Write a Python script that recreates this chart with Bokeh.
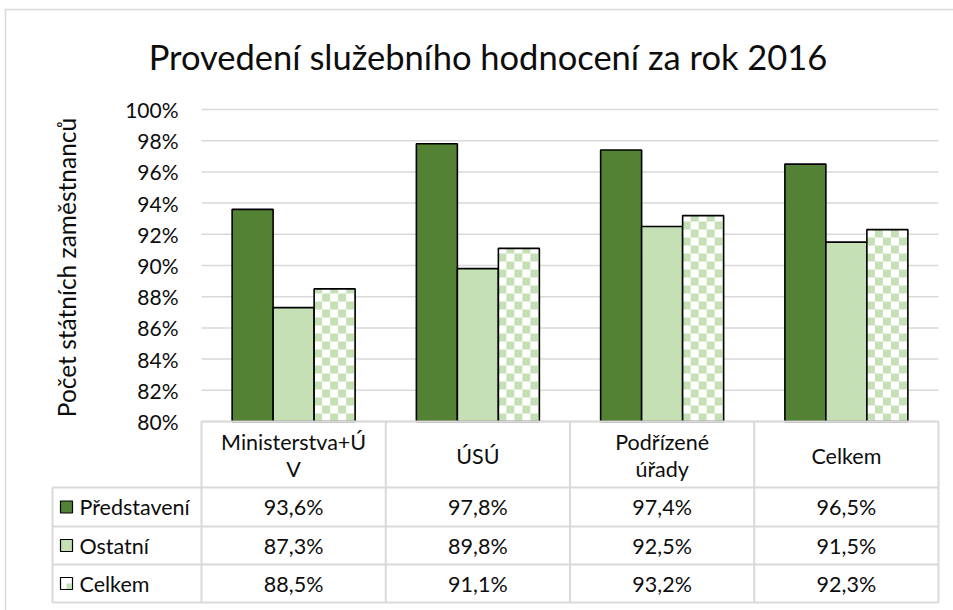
import math
from bokeh.plotting import figure
from bokeh.models import Range1d
from bokeh.core.properties import value
from bokeh.embed import file_html
from bokeh.resources import INLINE

# ---------------- data ----------------
title_text = "Provedení služebního hodnocení za rok 2016"
y_label = "Počet státních zaměstnanců"
categories = ["Ministerstva+Ú\nV", "ÚSÚ", "Podřízené\núřady", "Celkem"]
series_names = ["Představení", "Ostatní", "Celkem"]
predstaveni = [93.6, 97.8, 97.4, 96.5]
ostatni = [87.3, 89.8, 92.5, 91.5]
celkem = [88.5, 91.1, 93.2, 92.3]
y_ticks = [80, 82, 84, 86, 88, 90, 92, 94, 96, 98, 100]
y_tick_labels = ["80%", "82%", "84%", "86%", "88%", "90%", "92%", "94%", "96%", "98%", "100%"]

# ---------------- layout (page pixels) ----------------
PAGE = 0
W, H = 953, 610
AX_L, AX_R = 201, 938
Y100, Y80 = 109, 421
UX = (AX_R - AX_L) / len(categories)
UY = (Y80 - Y100) / 20.0

def X(px):
    return (px - AX_L) / UX

def Y(py):
    return 80 - (py - Y80) / UY

FONT = value("Lato")
DARK = "#548235"
LIGHT = "#C5E0B4"
GRID = "#d9d9d9"
TXT = "#0d0d0d"

p = figure(width=W, height=H, output_backend="svg", toolbar_location=None,
           x_range=Range1d(X(PAGE), X(PAGE + W)), y_range=Range1d(Y(PAGE + H), Y(PAGE)),
           x_axis_type=None, y_axis_type=None, min_border=0, outline_line_color=None,
           background_fill_color="white", border_fill_color="white")

# outer chart border (top & left)
p.segment(x0=[X(4), X(5)], x1=[X(PAGE + W), X(5)],
          y0=[Y(9), Y(9)], y1=[Y(9), Y(PAGE + H)], line_color=GRID, line_width=1.5)

# gridlines
n = len(categories)
p.segment(x0=[0] * len(y_ticks), x1=[n] * len(y_ticks), y0=y_ticks, y1=y_ticks,
          line_color=GRID, line_width=1.5)

# bars
bw = 41.0 / UX
centers = [i + 0.5 for i in range(n)]
series = [predstaveni, ostatni, celkem]
for k, vals in enumerate(series):
    xs = [c + (k - 1) * bw for c in centers]
    if k < 2:
        p.vbar(x=xs, top=vals, bottom=80, width=bw,
               fill_color=[DARK, LIGHT][k], line_color="black", line_width=1.6)
    else:
        p.vbar(x=xs, top=vals, bottom=80, width=bw, fill_color="white", line_color=None)
        sx, sy = 8.0 / UX, 8.0 / UY
        L, R, B, T = [], [], [], []
        for x, v in zip(xs, vals):
            x0, x1 = x - bw / 2, x + bw / 2
            ncol = math.ceil((x1 - x0) / sx - 1e-9)
            nrow = math.ceil((v - 80) / sy - 1e-9)
            for r in range(nrow):
                for c in range(ncol):
                    if (r + c) % 2 == 0:
                        L.append(x0 + c * sx)
                        R.append(min(x0 + (c + 1) * sx, x1))
                        B.append(80 + r * sy)
                        T.append(min(80 + (r + 1) * sy, v))
        p.quad(left=L, right=R, bottom=B, top=T, fill_color=LIGHT, line_color=None)
        p.vbar(x=xs, top=vals, bottom=80, width=bw, fill_alpha=0,
               line_color="black", line_width=1.6)

# tick labels
p.text(x=[X(178)] * len(y_ticks), y=y_ticks, text=y_tick_labels, text_font=FONT,
       text_font_size="21px", text_align="right", text_baseline="middle", text_color=TXT)

# y axis label
p.text(x=[X(66)], y=[Y(267)], text=[y_label], angle=math.pi / 2, text_font=FONT,
       text_font_size="24.5px", text_align="center", text_baseline="middle", text_color=TXT)

# title
p.text(x=[X(487.5)], y=[Y(56)], text=[title_text], text_font=FONT,
       text_font_size="34.5px", text_align="center", text_baseline="middle", text_color=TXT)

# data table lines
row_edges = [487, 526, 564, 602]
hx0 = [0] + [X(52)] * len(row_edges)
hx1 = [n] * (len(row_edges) + 1)
hy = [80] + [Y(r) for r in row_edges]
p.segment(x0=hx0, x1=hx1, y0=hy, y1=hy, line_color=GRID, line_width=2)
vx = [X(52)] + list(range(n + 1))
vy0 = [Y(487)] + [80] * (n + 1)
vy1 = [Y(602)] * (n + 2)
p.segment(x0=vx, x1=vx, y0=vy0, y1=vy1, line_color=GRID, line_width=2)

# header (category labels)
hx, hyy, ht = [], [], []
for c, lab in zip(centers, categories):
    lines = lab.split("\n")
    mid = 455.0
    for j, ln in enumerate(lines):
        hx.append(c)
        hyy.append(Y(mid + (j - (len(lines) - 1) / 2) * 27))
        ht.append(ln)
p.text(x=hx, y=hyy, text=ht, text_font=FONT, text_font_size="21.5px",
       text_align="center", text_baseline="middle", text_color=TXT)

# table values
row_centers = [(row_edges[i] + row_edges[i + 1]) / 2 for i in range(3)]
tx, ty, tt = [], [], []
for vals, rc in zip(series, row_centers):
    for c, v in zip(centers, vals):
        tx.append(c)
        ty.append(Y(rc))
        tt.append(f"{v:.1f}".replace(".", ",") + "%")
p.text(x=tx, y=ty, text=tt, text_font=FONT, text_font_size="21.5px",
       text_align="center", text_baseline="middle", text_color=TXT)

# legend keys in table
fills = [DARK, LIGHT, "white"]
for k, rc in enumerate(row_centers):
    p.quad(left=[X(60)], right=[X(72)], bottom=[Y(rc + 6)], top=[Y(rc - 6)],
           fill_color=fills[k], line_color="black", line_width=1.2)
    if k == 2:
        p.quad(left=[X(66)], right=[X(71.5)], bottom=[Y(rc + 5.5)], top=[Y(rc)],
               fill_color=LIGHT, line_color=None)
p.text(x=[X(79)] * 3, y=[Y(rc) for rc in row_centers], text=series_names, text_font=FONT,
       text_font_size="21.5px", text_align="left", text_baseline="middle", text_color=TXT)

open("out.html", "w").write(file_html(p, INLINE))
